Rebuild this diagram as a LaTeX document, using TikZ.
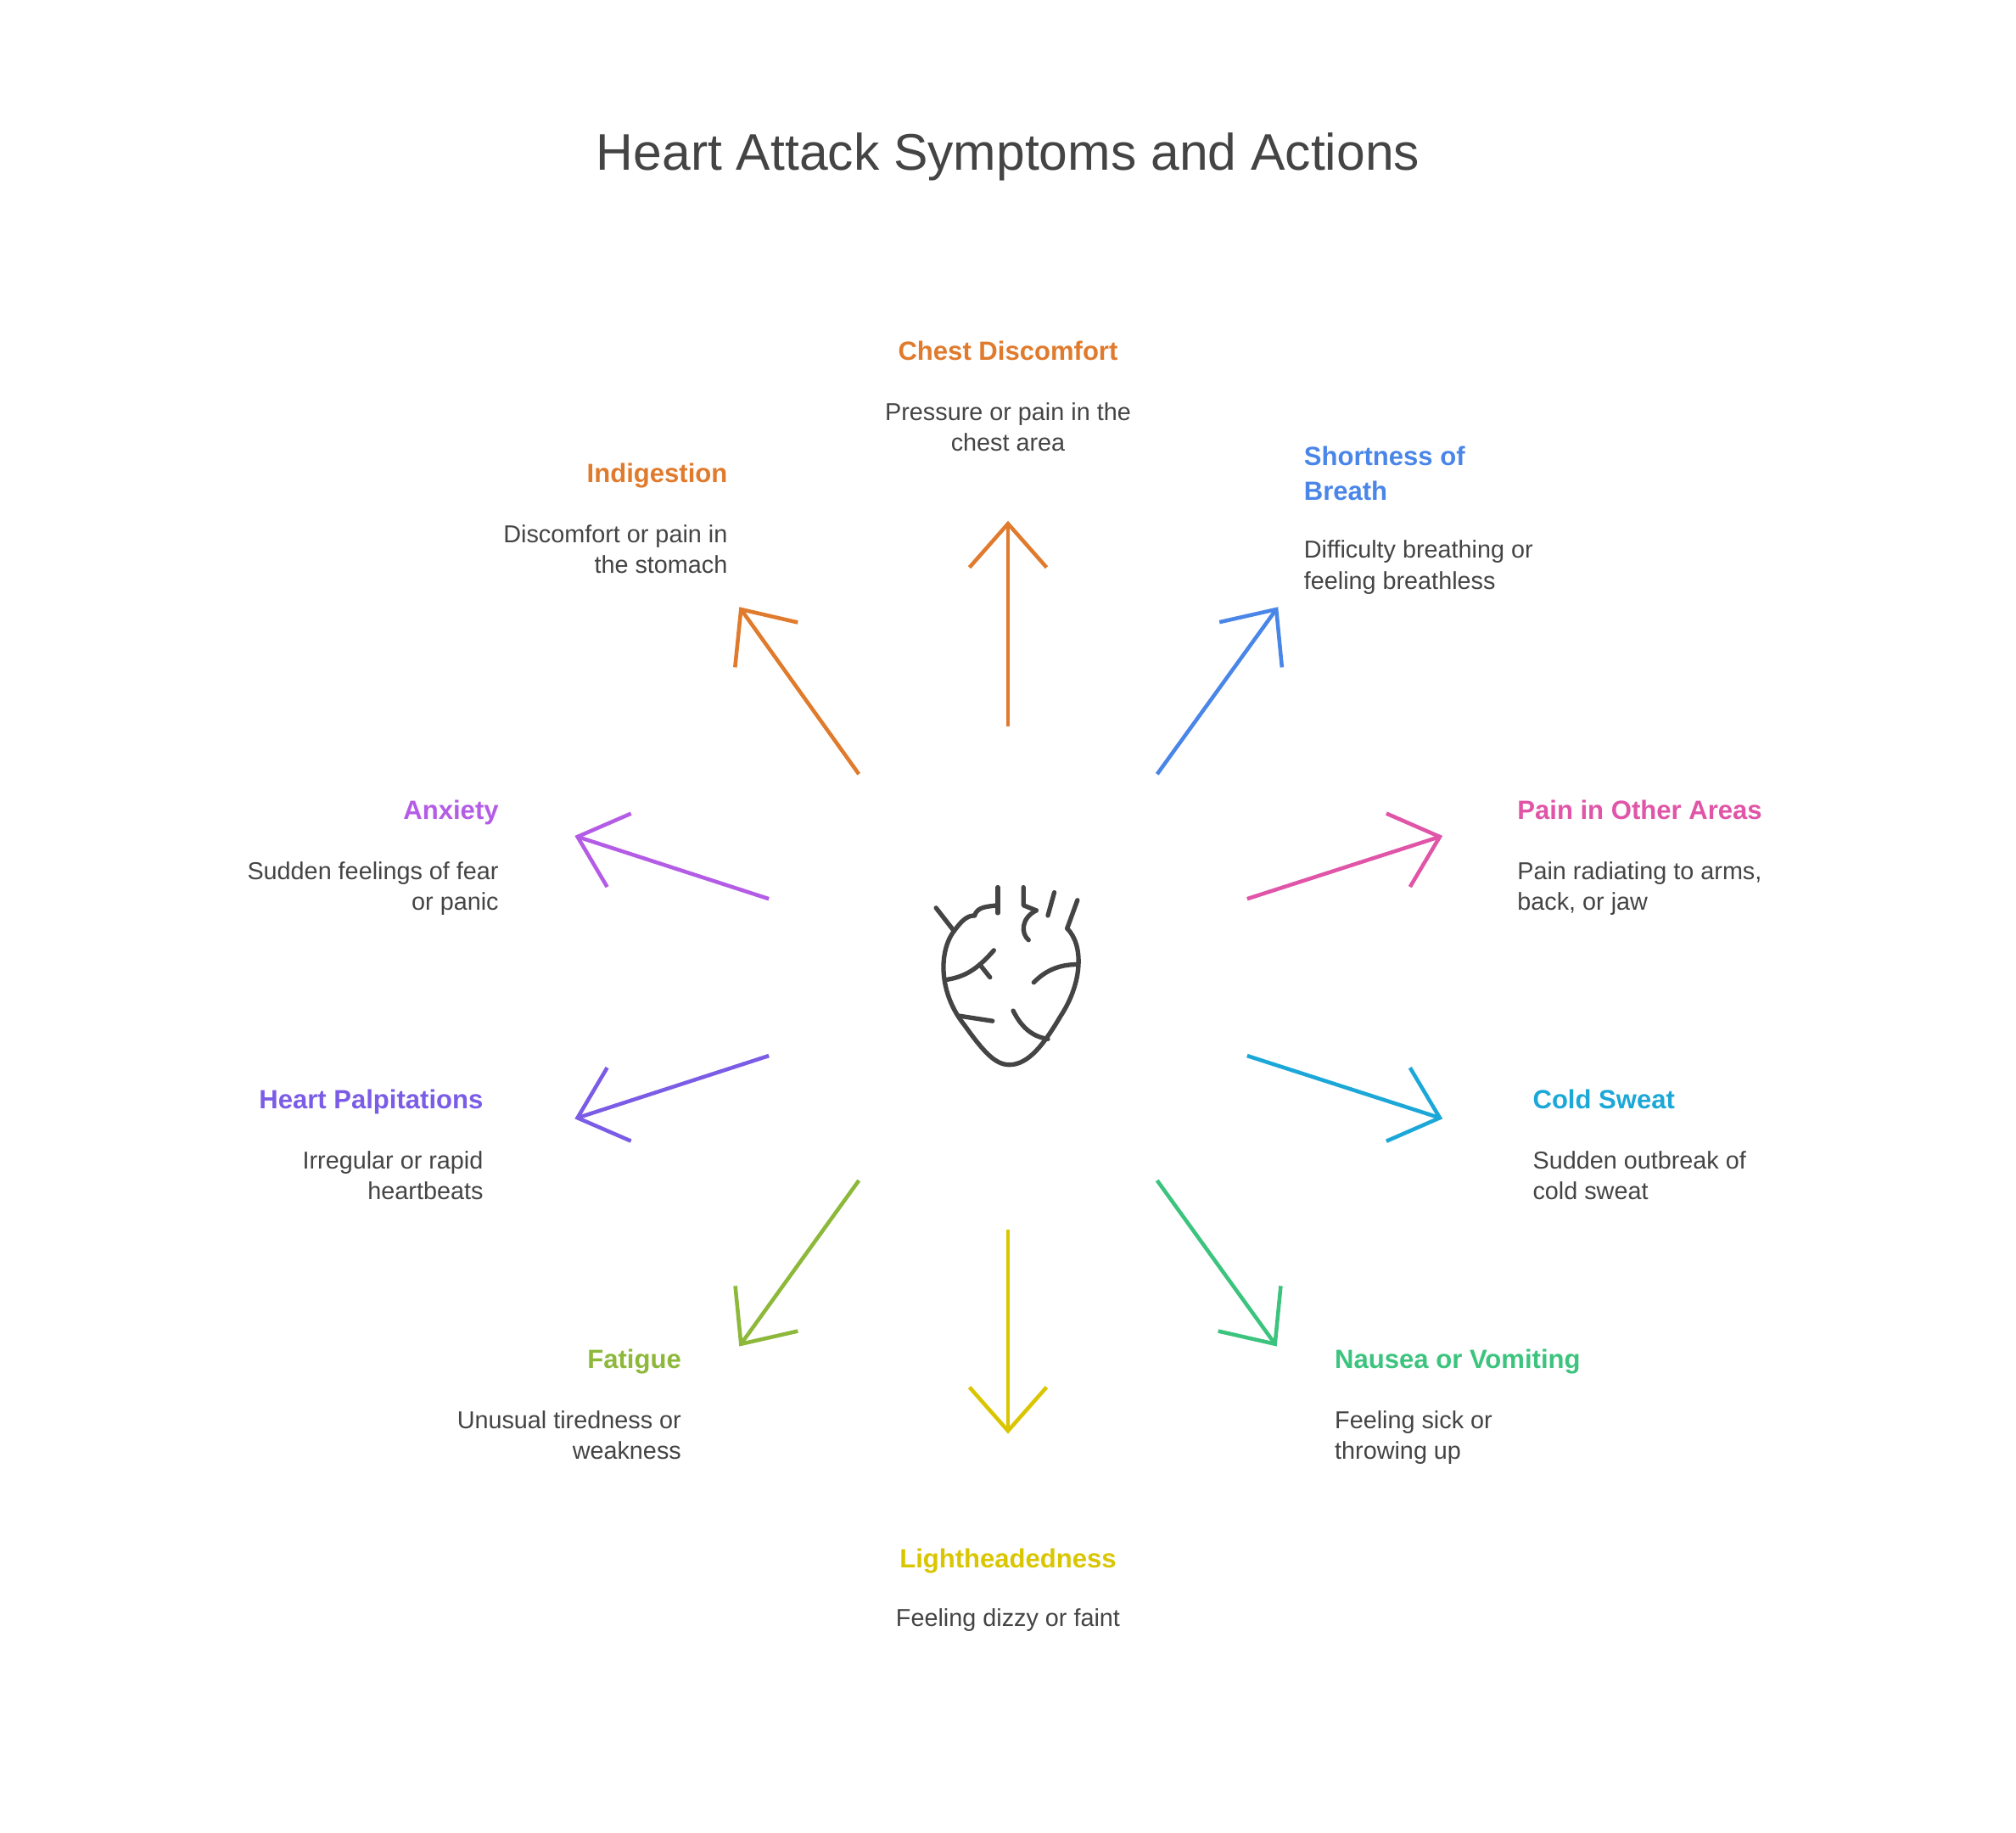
\documentclass[tikz,border=0pt]{standalone}
\usepackage{fontspec}
\setmainfont{Liberation Sans}
\usetikzlibrary{arrows.meta}
\definecolor{corange}{HTML}{E07B2E}
\definecolor{cblue}{HTML}{4A86E8}
\definecolor{cpink}{HTML}{E055A8}
\definecolor{ccyan}{HTML}{1BA8D8}
\definecolor{cgreen}{HTML}{3CC47E}
\definecolor{cyellow}{HTML}{D9C600}
\definecolor{clime}{HTML}{8DB83A}
\definecolor{cpurple}{HTML}{7B5CE6}
\definecolor{cviolet}{HTML}{B45CE6}
\definecolor{ctext}{HTML}{444444}
\tikzset{
  arr/.style={line width=3pt, -{Straight Barb[length=34pt,width=60pt,line width=3pt]}},
  lab/.style={inner sep=0pt, font=\fontsize{20.5}{27}\selectfont\bfseries},
  desc/.style={inner sep=0pt, text=ctext, font=\fontsize{19}{24}\selectfont},
  heart/.style={draw=ctext, line width=3.5pt, line cap=round, line join=round}
}
\begin{document}
\begin{tikzpicture}[x=1pt,y=-1pt]
\useasboundingbox[fill=white] (0,0) rectangle (1568,1425);
\node[inner sep=0pt, text=ctext, font=\fontsize{40}{44}\selectfont, anchor=base] (title) at (784,132) {Heart Attack Symptoms and Actions};
% arrows
\coordinate (s1) at (784,565); \coordinate (e1) at (784,405);
\coordinate (s2) at (900,602); \coordinate (e2) at (994,472);
\coordinate (s3) at (970,699); \coordinate (e3) at (1122,650);
\coordinate (s4) at (970,821); \coordinate (e4) at (1122,870);
\coordinate (s5) at (900,918); \coordinate (e5) at (993,1047);
\coordinate (s6) at (784,956); \coordinate (e6) at (784,1115);
\coordinate (s7) at (668,918); \coordinate (e7) at (575,1047);
\coordinate (s8) at (598,821); \coordinate (e8) at (447,870);
\coordinate (s9) at (598,699); \coordinate (e9) at (447,650);
\coordinate (s10) at (668,602); \coordinate (e10) at (575,472);
\draw[arr,corange] (s1) -- (e1);
\draw[arr,cblue] (s2) -- (e2);
\draw[arr,cpink] (s3) -- (e3);
\draw[arr,ccyan] (s4) -- (e4);
\draw[arr,cgreen] (s5) -- (e5);
\draw[arr,cyellow] (s6) -- (e6);
\draw[arr,clime] (s7) -- (e7);
\draw[arr,cpurple] (s8) -- (e8);
\draw[arr,cviolet] (s9) -- (e9);
\draw[arr,corange] (s10) -- (e10);
% labels
\node[lab,text=corange,anchor=base] (l1) at (784,280) {Chest Discomfort};
\node[desc,anchor=base,align=center] (d1) at (784,351) {Pressure or pain in the\\chest area};
\node[lab,text=cblue,anchor=base west,align=left] (l2) at (1014,389) {Shortness of\\Breath};
\node[desc,anchor=base west,align=left] (d2) at (1014,458) {Difficulty breathing or\\feeling breathless};
\node[lab,text=cpink,anchor=base west] (l3) at (1180,637) {Pain in Other Areas};
\node[desc,anchor=base west,align=left] (d3) at (1180,708) {Pain radiating to arms,\\back, or jaw};
\node[lab,text=ccyan,anchor=base west] (l4) at (1192,862) {Cold Sweat};
\node[desc,anchor=base west,align=left] (d4) at (1192,933) {Sudden outbreak of\\cold sweat};
\node[lab,text=cgreen,anchor=base west] (l5) at (1038,1064) {Nausea or Vomiting};
\node[desc,anchor=base west,align=left] (d5) at (1038,1135) {Feeling sick or\\throwing up};
\node[lab,text=cyellow,anchor=base] (l6) at (784,1219) {Lightheadedness};
\node[desc,anchor=base] (d6) at (784,1265) {Feeling dizzy or faint};
\node[lab,text=clime,anchor=base east] (l7) at (530,1064) {Fatigue};
\node[desc,anchor=base east,align=right] (d7) at (530,1135) {Unusual tiredness or\\weakness};
\node[lab,text=cpurple,anchor=base east] (l8) at (376,862) {Heart Palpitations};
\node[desc,anchor=base east,align=right] (d8) at (376,933) {Irregular or rapid\\heartbeats};
\node[lab,text=cviolet,anchor=base east] (l9) at (388,637) {Anxiety};
\node[desc,anchor=base east,align=right] (d9) at (388,708) {Sudden feelings of fear\\or panic};
\node[lab,text=corange,anchor=base east] (l10) at (566,375) {Indigestion};
\node[desc,anchor=base east,align=right] (d10) at (566,446) {Discomfort or pain in\\the stomach};
% heart icon
\draw[heart] (742,724) .. controls (730,740) and (730,772) .. (750,797) .. controls (765,818) and (774,828) .. (785,828) .. controls (800,828) and (812,812) .. (825,790) .. controls (842,764) and (843,735) .. (830,722);
\draw[heart] (728,706) -- (742,724);
\draw[heart] (742,724) .. controls (748,716) and (752,712) .. (758,712);
\draw[heart] (758,712) .. controls (760,705) and (768,705) .. (776,704);
\draw[heart] (776,690) -- (776,710);
\draw[heart] (796,690) -- (796,704) -- (806,708);
\draw[heart] (820,694) -- (815,712);
\draw[heart] (838,700) -- (830,722);
\draw[heart] (806,708) .. controls (794,714) and (794,726) .. (800,731);
\draw[heart] (735,762) .. controls (750,760) and (760,754) .. (773,739);
\draw[heart] (762,750) -- (770,760);
\draw[heart] (746,790) -- (772,794);
\draw[heart] (788,786) .. controls (794,798) and (802,806) .. (815,808);
\draw[heart] (804,764) .. controls (812,756) and (822,750) .. (838,750);
\end{tikzpicture}
\end{document}
